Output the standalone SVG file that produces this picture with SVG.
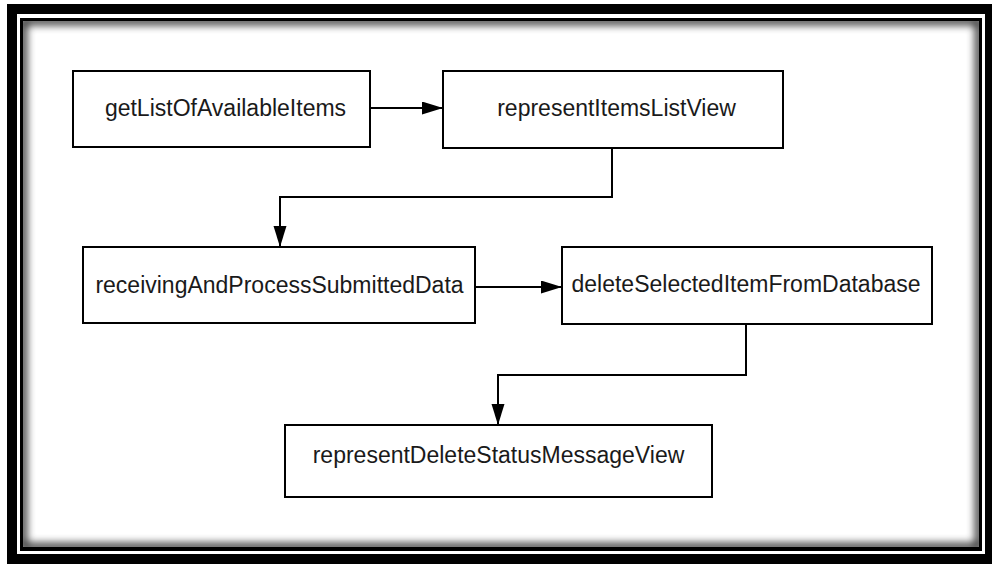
<svg xmlns="http://www.w3.org/2000/svg" width="992" height="569" viewBox="0 0 992 569">
  <style>
    .box { fill: #ffffff; stroke: #000000; stroke-width: 2; }
    .label { font-family: "Liberation Sans", Arial, sans-serif; font-size: 23px; fill: #1a1a1a; text-anchor: middle; dominant-baseline: central; }
    .wire { fill: none; stroke: #000000; stroke-width: 2; }
  </style>
  <defs>
    <marker id="arrow" markerUnits="userSpaceOnUse" markerWidth="22" markerHeight="14" refX="21" refY="6.5" orient="auto">
      <path d="M0,0 L21,6.5 L0,13 Z" fill="#000000"/>
    </marker>
    <clipPath id="inside">
      <rect x="23" y="21" width="956" height="526"/>
    </clipPath>
    <filter id="soft" x="-5%" y="-5%" width="110%" height="110%">
      <feGaussianBlur stdDeviation="4"/>
    </filter>
  </defs>

  <rect width="992" height="569" fill="#ffffff"/>

  <!-- double picture frame -->
  <g id="frame">
    <rect x="7" y="4" width="995" height="560" fill="#000000"/>
    <rect x="17" y="14" width="968" height="540" fill="#ffffff"/>
    <rect x="20" y="18" width="962" height="533" fill="#000000"/>
    <rect x="23" y="21" width="956" height="526" fill="#ffffff"/>
    <g clip-path="url(#inside)">
      <rect x="23" y="21" width="956" height="526" fill="none" stroke="#000000" stroke-width="7" filter="url(#soft)" opacity="0.9"/>
    </g>
  </g>

  <!-- connectors -->
  <g id="connectors">
    <path class="wire" d="M370,108 L443,108" marker-end="url(#arrow)"/>
    <path class="wire" d="M612,148 L612,197 L280,197 L280,247" marker-end="url(#arrow)"/>
    <path class="wire" d="M475,287 L562,287" marker-end="url(#arrow)"/>
    <path class="wire" d="M746,324 L746,375 L498,375 L498,425" marker-end="url(#arrow)"/>
  </g>

  <g id="getListOfAvailableItems">
    <rect class="box" x="73" y="71" width="297" height="76"/>
    <text class="label" x="225.5" y="108">getListOfAvailableItems</text>
  </g>

  <g id="representItemsListView">
    <rect class="box" x="443" y="71" width="340" height="77"/>
    <text class="label" x="616.5" y="108">representItemsListView</text>
  </g>

  <g id="receivingAndProcessSubmittedData">
    <rect class="box" x="83" y="247" width="392" height="76"/>
    <text class="label" x="279.5" y="285">receivingAndProcessSubmittedData</text>
  </g>

  <g id="deleteSelectedItemFromDatabase">
    <rect class="box" x="562" y="247" width="370" height="77"/>
    <text class="label" x="746" y="284">deleteSelectedItemFromDatabase</text>
  </g>

  <g id="representDeleteStatusMessageView">
    <rect class="box" x="285" y="425" width="427" height="72"/>
    <text class="label" x="498.5" y="455">representDeleteStatusMessageView</text>
  </g>
</svg>
